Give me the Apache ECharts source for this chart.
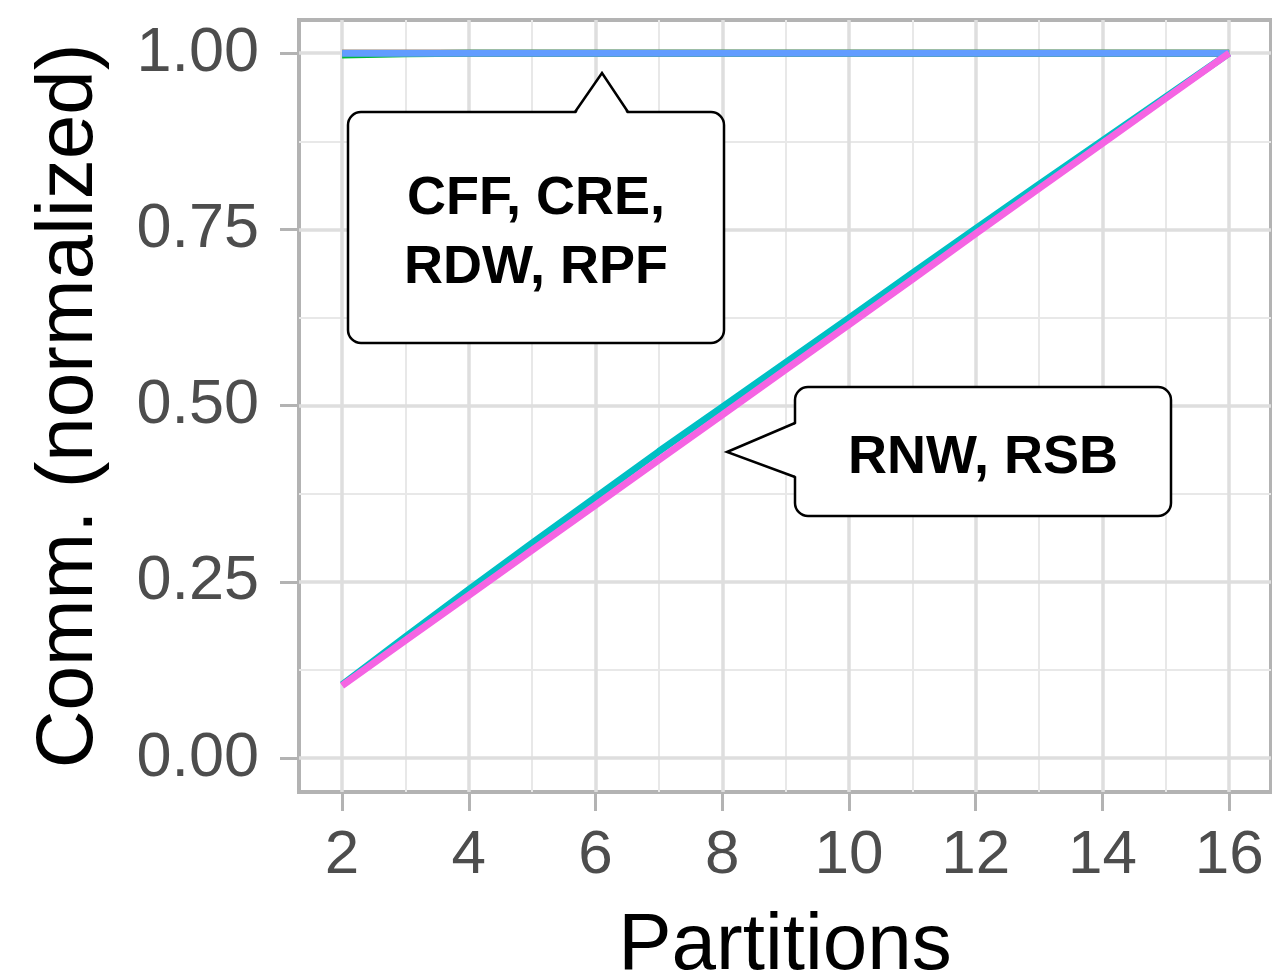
<!DOCTYPE html>
<html>
<head>
<meta charset="utf-8">
<script src="https://cdn.jsdelivr.net/npm/echarts@6/dist/echarts.min.js"></script>
<style>
  html, body { margin: 0; padding: 0; background: #fff; }
  #main { width: 1272px; height: 980px; }
</style>
</head>
<body>
<div id="main"></div>
<script>
// partitions on the x axis
var partitions = [2, 3, 4, 5, 6, 7, 8, 9, 10, 11, 12, 13, 14, 15, 16];
// normalized communication per scheme
var cff = [1, 1, 1, 1, 1, 1, 1, 1, 1, 1, 1, 1, 1, 1, 1];
var cre = [1, 1, 1, 1, 1, 1, 1, 1, 1, 1, 1, 1, 1, 1, 1];
var rdw = [0.9975, 0.999, 1, 1, 1, 1, 1, 1, 1, 1, 1, 1, 1, 1, 1];
var rnw = [0.104, 0.172, 0.239, 0.305, 0.370, 0.435, 0.498, 0.561, 0.624, 0.688, 0.751, 0.814, 0.876, 0.938, 1.0];
var rpf = [1, 1, 1, 1, 1, 1, 1, 1, 1, 1, 1, 1, 1, 1, 1];
var rsb = [0.103, 0.167, 0.231, 0.295, 0.359, 0.423, 0.487, 0.551, 0.615, 0.679, 0.744, 0.808, 0.872, 0.936, 1.0];

var seriesNames = ['CFF', 'CRE', 'RDW', 'RNW', 'RPF', 'RSB'];
var seriesValues = [cff, cre, rdw, rnw, rpf, rsb];
var colorData = ['#F8766D', '#B79F00', '#00BA38', '#00BFC4', '#619CFF', '#F564E3'];

// tick labels
var xTicks = [2, 4, 6, 8, 10, 12, 14, 16];
var xMinor = [3, 5, 7, 9, 11, 13, 15];
var yTicks = [0, 0.25, 0.5, 0.75, 1];
var yMinor = [0.125, 0.375, 0.625, 0.875];

var FONT = '"Liberation Sans", Arial, Helvetica, sans-serif';

var seriesData = [];
for (var i = 0; i < seriesNames.length; i++) {
  var pts = [];
  for (var j = 0; j < partitions.length; j++) {
    pts.push([partitions[j], seriesValues[i][j]]);
  }
  seriesData.push({
    name: seriesNames[i],
    type: 'line',
    data: pts,
    showSymbol: false,
    symbol: 'none',
    lineStyle: { width: 7, color: colorData[i] },
    itemStyle: { color: colorData[i] },
    z: 3 + i
  });
}

var xMin = 1.32, xMax = 16.66, yMin = -0.048, yMax = 1.047;

// callout boxes: rounded rect + a pointer (white wedge covers the border, then outline)
function callout(box, wedge, outline, text, tx, ty, lh) {
  return [
    { type: 'rect', z: 100, shape: { x: box[0], y: box[1], width: box[2], height: box[3], r: 13 },
      style: { fill: '#fff', stroke: '#000', lineWidth: 2.5 } },
    { type: 'polygon', z: 101, shape: { points: wedge }, style: { fill: '#fff', stroke: null } },
    { type: 'polyline', z: 102, shape: { points: outline }, style: { fill: null, stroke: '#000', lineWidth: 2.5 } },
    { type: 'text', x: tx, y: ty, z: 103,
      style: { text: text, fontFamily: FONT, fontSize: 54, fontWeight: 'bold', fill: '#000',
        align: 'center', verticalAlign: 'middle', lineHeight: lh } }
  ];
}

var graphics = [].concat(
  callout([348, 112, 376, 231],
    [[575, 115], [602, 73], [628, 115]],
    [[575, 112], [602, 73], [628, 112]],
    'CFF, CRE,\nRDW, RPF', 536, 234, 69),
  callout([795, 387, 376, 129],
    [[798, 423], [727, 452], [798, 477]],
    [[795, 423], [727, 452], [795, 477]],
    'RNW, RSB', 983, 458, 60)
);

var chart = echarts.init(document.getElementById('main'));
var option = {
  animation: false,
  backgroundColor: '#fff',
  grid: {
    left: 299, top: 20, right: 1, bottom: 188,
    show: true,
    borderColor: '#b3b3b3',
    borderWidth: 4,
    backgroundColor: 'transparent',
    outerBoundsMode: 'none'
  },
  xAxis: [{
    type: 'value',
    min: xMin, max: xMax,
    name: 'Partitions',
    nameLocation: 'middle',
    nameGap: 115,
    nameTextStyle: { fontFamily: FONT, fontSize: 80, color: '#000' },
    axisLine: { show: false, onZero: false },
    axisTick: { show: true, customValues: xTicks, length: 19, lineStyle: { color: '#b3b3b3', width: 3 } },
    axisLabel: {
      customValues: xTicks, margin: 33,
      fontFamily: FONT, fontSize: 62, color: '#4d4d4d'
    },
    splitLine: { show: true, lineStyle: { color: '#dedede', width: 3.5 } },
    z: 1
  }, {
    type: 'value',
    min: xMin, max: xMax,
    axisLine: { show: false, onZero: false },
    axisTick: { show: false, customValues: xMinor },
    axisLabel: { show: false, customValues: xMinor },
    splitLine: { show: true, lineStyle: { color: '#e8e8e8', width: 2 } },
    z: 0
  }],
  yAxis: [{
    type: 'value',
    min: yMin, max: yMax,
    name: 'Comm. (normalized)',
    nameLocation: 'middle',
    nameGap: 189,
    nameRotate: 90,
    nameTextStyle: { fontFamily: FONT, fontSize: 80, color: '#000' },
    axisLine: { show: false, onZero: false },
    axisTick: { show: true, customValues: yTicks, length: 19, lineStyle: { color: '#b3b3b3', width: 3 } },
    axisLabel: {
      customValues: yTicks, margin: 40,
      fontFamily: FONT, fontSize: 63, color: '#4d4d4d',
      formatter: function (v) { return v.toFixed(2); }
    },
    splitLine: { show: true, lineStyle: { color: '#dedede', width: 3.5 } },
    z: 1
  }, {
    type: 'value',
    min: yMin, max: yMax,
    axisLine: { show: false, onZero: false },
    axisTick: { show: false, customValues: yMinor },
    axisLabel: { show: false, customValues: yMinor },
    splitLine: { show: true, lineStyle: { color: '#e8e8e8', width: 2 } },
    z: 0
  }],
  series: seriesData,
  graphic: graphics
};
chart.setOption(option);
</script>
</body>
</html>
